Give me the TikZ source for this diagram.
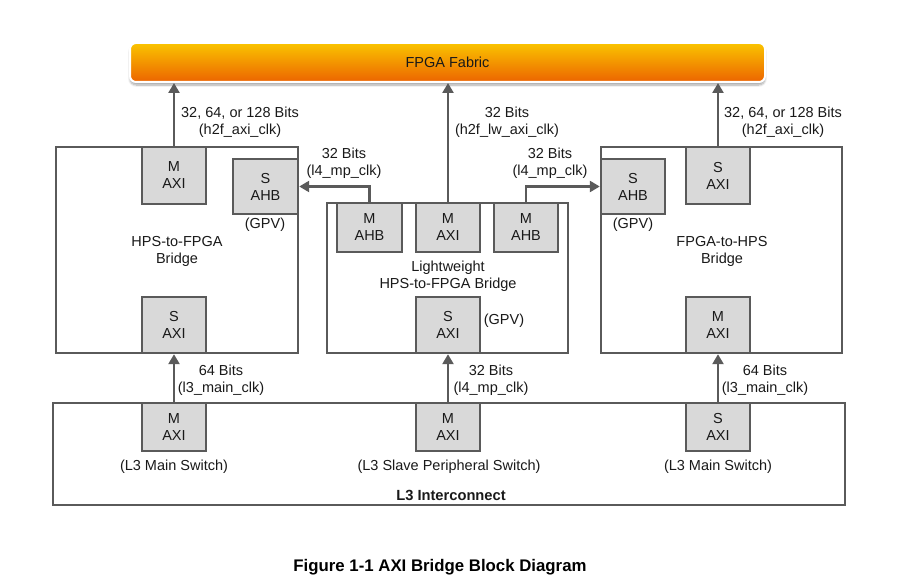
\documentclass[tikz,border=0pt]{standalone}
\usepackage{fontspec}
\setmainfont{Liberation Sans}
\usetikzlibrary{arrows.meta,shadows.blur}
\definecolor{linec}{RGB}{90,90,90}
\definecolor{portfill}{RGB}{217,217,217}
\definecolor{txt}{RGB}{25,25,25}
\definecolor{fabtop}{RGB}{250,196,0}
\definecolor{fabbot}{RGB}{236,100,0}
\tikzset{
  every node/.style={text=txt, font=\fontsize{14.5}{17}\selectfont, inner sep=0pt},
  bridge/.style={draw=linec, line width=2.4pt, fill=white, rectangle},
  port/.style={draw=linec, line width=2.4pt, fill=portfill, rectangle, align=center, minimum width=64pt},
  lab/.style={align=center},
  arr/.style={draw=linec, line width=2.4pt, -{Triangle[length=10pt,width=11pt]}},
}
\begin{document}
\begin{tikzpicture}[x=1pt,y=-1pt]
\useasboundingbox (0,0) rectangle (919,586);
% FPGA fabric
\node[draw=white, line width=2pt, rounded corners=6pt, top color=fabtop, bottom color=fabbot,
  minimum width=635pt, minimum height=39pt,
  blur shadow={shadow xshift=0pt, shadow yshift=-3pt, shadow blur steps=8, shadow opacity=35}]
  (fab) at (447.5,62.5) {FPGA Fabric};
% bridges
\node[bridge, minimum width=242pt, minimum height=206pt] (hf) at (177,250) {};
\node[bridge, minimum width=241pt, minimum height=150pt] (lw) at (447.5,278) {};
\node[bridge, minimum width=241pt, minimum height=206pt] (fh) at (721.5,250) {};
\node[bridge, minimum width=792pt, minimum height=102pt] (l3) at (449,454) {};
% ports
\node[port, minimum height=57pt] (hfm) at (174,175.5) {M\\AXI};
\node[port, minimum height=55pt, minimum width=65pt] (hfs) at (265.5,186.5) {S\\AHB};
\node[port, minimum height=56pt] (hfsa) at (174,325) {S\\AXI};
\node[port, minimum height=49pt, minimum width=65pt] (lwm1) at (369.5,227.5) {M\\AHB};
\node[port, minimum height=49pt] (lwm2) at (448,227.5) {M\\AXI};
\node[port, minimum height=49pt] (lwm3) at (526,227.5) {M\\AHB};
\node[port, minimum height=56pt] (lws) at (448,325) {S\\AXI};
\node[port, minimum height=55pt] (fhs) at (633,186.5) {S\\AHB};
\node[port, minimum height=57pt] (fhsa) at (718,175.5) {S\\AXI};
\node[port, minimum height=56pt] (fhm) at (718,325) {M\\AXI};
\node[port, minimum height=48pt] (l3a) at (174,427) {M\\AXI};
\node[port, minimum height=48pt] (l3b) at (448,427) {M\\AXI};
\node[port, minimum height=48pt] (l3c) at (718,427) {S\\AXI};
% connectors
\draw[arr] (hfm.north) -- (hfm.north |- fab.south);
\draw[arr] (lwm2.north) -- (lwm2.north |- fab.south);
\draw[arr] (fhsa.north) -- (fhsa.north |- fab.south);
\draw[arr] (lwm1.north) |- (hfs.east);
\draw[arr] (lwm3.north) |- (fhs.west);
\draw[arr] (l3a.north) -- (hfsa.south);
\draw[arr] (l3b.north) -- (lws.south);
\draw[arr] (l3c.north) -- (fhm.south);
% labels
\node[lab] (lab1) at (240,122.5) {32, 64, or 128 Bits\\(h2f\_axi\_clk)};
\node[lab] (lab2) at (507,122.5) {32 Bits\\(h2f\_lw\_axi\_clk)};
\node[lab] (lab3) at (783,122.5) {32, 64, or 128 Bits\\(h2f\_axi\_clk)};
\node[lab] (lab4) at (344,163.5) {32 Bits\\(l4\_mp\_clk)};
\node[lab] (lab5) at (550,163.5) {32 Bits\\(l4\_mp\_clk)};
\node[lab] (lab6) at (221,380.5) {64 Bits\\(l3\_main\_clk)};
\node[lab] (lab7) at (491,380.5) {32 Bits\\(l4\_mp\_clk)};
\node[lab] (lab8) at (765,380.5) {64 Bits\\(l3\_main\_clk)};
\node (gpv1) at (265,225) {(GPV)};
\node (gpv2) at (504,321) {(GPV)};
\node (gpv3) at (633,225) {(GPV)};
\node[lab] (t1) at (177,251.5) {HPS-to-FPGA\\Bridge};
\node[lab] (t2) at (448,276.5) {Lightweight\\HPS-to-FPGA Bridge};
\node[lab] (t3) at (722,251.5) {FPGA-to-HPS\\Bridge};
\node (sw1) at (174,467) {(L3 Main Switch)};
\node (sw2) at (449,467) {(L3 Slave Peripheral Switch)};
\node (sw3) at (718,467) {(L3 Main Switch)};
\node[font=\fontsize{14.7}{17}\selectfont\bfseries] (l3t) at (451,495) {L3 Interconnect};
\node[font=\fontsize{16.8}{19}\selectfont\bfseries, text=black] (cap) at (440,567) {Figure 1-1 AXI Bridge Block Diagram};
\end{tikzpicture}
\end{document}
